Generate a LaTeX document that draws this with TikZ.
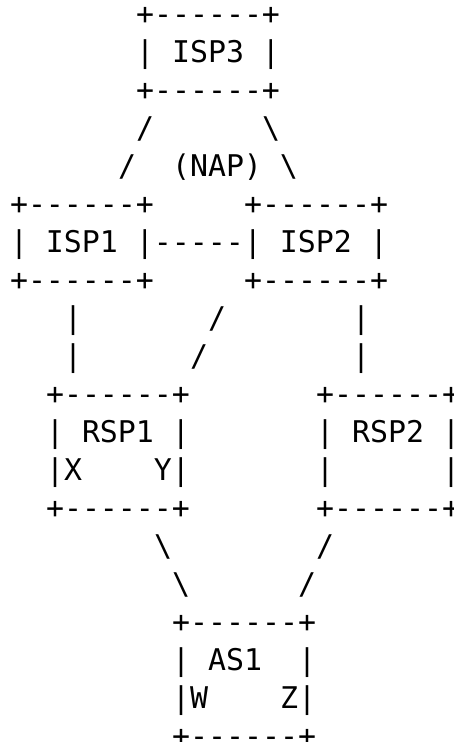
\documentclass[tikz,border=0pt]{standalone}
\usepackage{fontspec}
\setmonofont{DejaVu Sans Mono}
\frenchspacing
\tikzset{
  rowtxt/.style={anchor=base west, inner sep=0pt, outer sep=0pt,
    font=\ttfamily\fontsize{29.9}{38}\selectfont}
}
\begin{document}
\begin{tikzpicture}[x=1pt,y=1pt]
\useasboundingbox (0,0) rectangle (453,742);
% x = 10 + 18*col ; baseline y = 717 - 38*row
\node[rowtxt] (r0)  at (136,717) {+------+};
\node[rowtxt] (r1)  at (136,679) {|~ISP3~|};
\node[rowtxt] (r2)  at (136,641) {+------+};
\node[rowtxt] (r3)  at (136,603) {/~~~~~~\textbackslash};
\node[rowtxt] (r4)  at (118,565) {/~~(NAP)~\textbackslash};
\node[rowtxt] (r5)  at (10,527)  {+------+~~~~~+------+};
\node[rowtxt] (r6)  at (10,489)  {|~ISP1~|-----|~ISP2~|};
\node[rowtxt] (r7)  at (10,451)  {+------+~~~~~+------+};
\node[rowtxt] (r8)  at (64,413)  {|~~~~~~~/~~~~~~~|};
\node[rowtxt] (r9)  at (64,375)  {|~~~~~~/~~~~~~~~|};
\node[rowtxt] (r10) at (46,337)  {+------+~~~~~~~+------+};
\node[rowtxt] (r11) at (46,299)  {|~RSP1~|~~~~~~~|~RSP2~|};
\node[rowtxt] (r12) at (46,261)  {|X~~~~Y|~~~~~~~|~~~~~~|};
\node[rowtxt] (r13) at (46,223)  {+------+~~~~~~~+------+};
\node[rowtxt] (r14) at (154,185) {\textbackslash~~~~~~~~/};
\node[rowtxt] (r15) at (172,147) {\textbackslash~~~~~~/};
\node[rowtxt] (r16) at (172,109) {+------+};
\node[rowtxt] (r17) at (172,71)  {|~AS1~~|};
\node[rowtxt] (r18) at (172,33)  {|W~~~~Z|};
\node[rowtxt] (r19) at (172,-5)  {+------+};
\end{tikzpicture}
\end{document}
